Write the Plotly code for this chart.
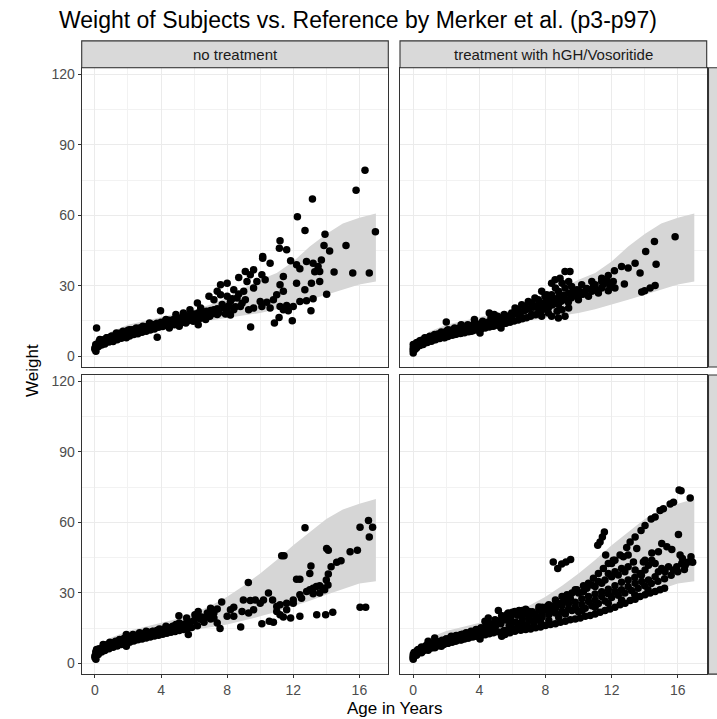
import plotly.graph_objects as go

# ---------------- data ----------------
col_labels = ["no treatment", "treatment with hGH/Vosoritide"]
x_ticks = [0, 4, 8, 12, 16]
y_ticks = [0, 30, 60, 90, 120]

# reference band (p3 - p97), per row
ref_age = [0, 1, 2, 3, 4, 5, 6, 7, 8, 9, 10, 11, 12, 13, 14, 15, 16, 17]
ref_low_row1 = [2.3, 7.0, 9.0, 10.5, 12.0, 13.0, 14.0, 15.0, 16.3, 17.3, 18.4, 20.0, 21.9, 24.0, 26.2, 28.5, 30.5, 31.8]
ref_high_row1 = [4.2, 10.5, 13.4, 15.0, 16.5, 18.0, 19.8, 22.0, 25.0, 29.0, 32.5, 35.4, 40.3, 46.7, 52.0, 56.5, 59.0, 60.8]
ref_low_row2 = [2.5, 7.2, 9.5, 11.0, 12.3, 13.4, 14.4, 15.4, 16.5, 18.2, 20.0, 22.0, 24.2, 26.7, 29.2, 31.7, 34.0, 35.0]
ref_high_row2 = [4.5, 11.0, 13.8, 15.5, 17.2, 19.0, 21.4, 24.5, 28.4, 33.0, 38.3, 44.0, 50.3, 56.0, 61.5, 65.5, 68.0, 70.0]

# subjects: (age, weight)
pts_row1_none = [
    (16.34, 79.2), (15.8, 70.7), (13.16, 66.9), (12.25, 59.4), (16.97, 53.0), (12.71, 53.5), (13.92, 51.9),
    (11.2, 49.2), (11.16, 46.0), (11.6, 45.3), (13.86, 47.1), (14.2, 44.8), (15.19, 47.1), (14.47, 35.8),
    (15.6, 35.4), (16.6, 35.4), (14.02, 26.4), (13.07, 19.4), (11.94, 15.1), (10.86, 14.1), (11.14, 16.5),
    (9.42, 12.4), (10.15, 42.4), (10.6, 39.6), (3.97, 19.4), (0.1, 12.0),
    (11.84, 40.6), (12.2, 38.9), (12.4, 37.2), (12.8, 40.3), (13.2, 39.6), (13.5, 38.2), (13.7, 41.0),
    (13.6, 36.1), (13.3, 36.0), (13.6, 31.8), (13.1, 31.1), (12.7, 28.3), (12.2, 31.1), (11.4, 33.9),
    (11.2, 30.4), (11.4, 27.6), (11.0, 26.2), (10.8, 24.0), (10.4, 23.0), (10.0, 23.3), (9.6, 20.5),
    (9.3, 19.8), (10.1, 21.2), (10.6, 20.5), (11.2, 21.2), (11.6, 21.6), (12.0, 21.2), (12.4, 23.3),
    (12.8, 23.6), (13.2, 24.5), (11.4, 19.8), (11.7, 19.4),
    (10.15, 41.7), (9.6, 36.8), (9.1, 36.1), (9.4, 34.7), (9.8, 31.8), (10.1, 34.7), (10.3, 32.5),
    (9.6, 29.0), (9.2, 31.8), (8.7, 33.5), (9.0, 27.6), (8.4, 28.3), (8.0, 31.1), (7.6, 30.4), (7.4, 27.6),
    (6.9, 25.5), (7.2, 24.0), (7.6, 26.2), (8.0, 25.5), (8.2, 23.3), (8.6, 24.8), (7.8, 20.5), (7.2, 19.8),
    (7.4, 17.7), (6.8, 17.7), (8.4, 19.8), (8.8, 21.2), (8.0, 19.1), (6.4, 20.5), (6.2, 22.6), (5.75, 19.8),
    (5.35, 18.4), (4.9, 17.7), (5.1, 15.6), (5.5, 16.5), (6.0, 17.0), (4.7, 14.9), (4.3, 15.6), (4.1, 14.1),
    (3.7, 13.4), (3.77, 8.1),
    (3.3, 14.1), (2.9, 12.7), (2.5, 12.0), (2.1, 11.3), (1.7, 10.6), (1.3, 9.9), (1.0, 8.5), (0.7, 7.8),
    (0.4, 6.4), (0.2, 5.0), (0.0, 3.5), (0.06, 2.1), (0.1, 4.2), (0.3, 7.1), (0.6, 5.7), (1.1, 7.1),
    (1.5, 8.5), (1.9, 7.8), (2.3, 9.9), (2.7, 10.6), (3.1, 12.0), (3.5, 12.0), (3.9, 12.7), (4.4, 13.4),
    (4.8, 13.4), (4.5, 12.0), (5.1, 12.7), (5.5, 14.1), (5.95, 14.9), (6.4, 16.3), (6.7, 15.6), (6.95, 17.0),
    (6.25, 13.4),
    (0.0, 3.0), (0.05, 5.0), (0.2, 4.0), (0.25, 6.2), (0.4, 4.8), (0.5, 7.0), (0.6, 5.2), (0.75, 7.8),
    (0.85, 6.0), (1.0, 8.5), (1.1, 6.2), (1.25, 9.0), (1.35, 7.0), (1.5, 9.8), (1.6, 7.6), (1.75, 10.4),
    (1.85, 8.2), (2.0, 11.0), (2.1, 8.6), (2.25, 11.3), (2.35, 9.2), (2.5, 11.7), (2.6, 9.6), (2.75, 12.1),
    (2.85, 10.2), (3.0, 12.5), (3.1, 10.6), (3.25, 13.0), (3.35, 11.2), (3.5, 13.5), (3.6, 11.6), (3.75, 14.0),
    (3.85, 12.3), (4.0, 14.5), (4.1, 12.6), (4.25, 14.9), (4.35, 13.1), (4.5, 15.3), (4.6, 13.4), (4.75, 15.6),
    (4.85, 13.8), (5.0, 16.0), (5.1, 14.1), (5.25, 16.5), (5.35, 14.5), (5.5, 17.0), (5.6, 15.0), (5.75, 17.5),
    (5.85, 15.4), (6.0, 18.0), (6.1, 15.8), (6.25, 18.4), (6.35, 16.2), (6.5, 18.7), (6.6, 16.6), (6.75, 19.1),
    (6.85, 17.0), (7.0, 19.5), (7.2, 18.2), (7.4, 20.2), (7.5, 18.5), (7.7, 22.0), (7.9, 18.0), (8.1, 21.5),
    (8.3, 24.5), (8.5, 21.0), (8.7, 26.5), (8.9, 22.5), (9.1, 24.0), (8.2, 17.5),
]

pts_row1_treat = [
    (15.84, 50.9), (14.59, 48.8), (14.06, 44.6), (14.69, 39.2), (13.72, 35.4), (13.42, 39.6), (13.0, 37.5),
    (12.6, 38.2), (12.17, 36.4), (12.77, 30.7), (13.82, 27.3), (14.0, 27.9), (14.33, 29.0), (14.63, 30.1),
    (9.18, 36.1), (9.48, 36.1), (8.58, 32.5), (8.88, 33.2), (8.37, 31.1), (7.77, 17.0), (8.37, 17.0),
    (8.78, 16.3), (9.18, 17.0), (5.31, 12.0), (4.04, 9.9), (2.0, 14.6),
    (0.0, 1.4), (0.0, 3.5), (0.0, 5.0), (0.1, 2.8), (0.2, 5.7), (0.4, 6.6), (0.7, 7.8), (1.0, 8.5),
    (1.3, 9.2), (1.7, 10.3), (2.1, 11.3), (2.5, 12.0), (2.9, 12.7), (3.3, 13.4), (3.7, 14.1), (4.2, 14.9),
    (4.7, 16.3), (5.1, 17.0), (5.5, 17.7), (5.95, 18.4), (6.35, 19.8), (6.76, 21.2), (7.16, 22.6),
    (7.57, 24.0), (7.97, 25.5), (8.37, 26.2), (8.78, 27.6), (9.18, 29.0), (9.58, 29.7), (10.19, 30.4),
    (10.8, 31.8), (11.4, 33.2), (11.8, 34.4), (12.1, 31.8),
    (0.5, 5.0), (0.9, 6.4), (1.3, 7.1), (1.9, 7.8), (2.5, 9.2), (2.9, 9.9), (3.5, 10.6), (4.1, 12.0),
    (4.7, 12.7), (5.35, 14.1), (5.95, 15.6), (6.56, 16.5), (7.16, 17.7), (7.77, 19.8), (8.17, 20.5),
    (8.78, 22.0), (9.38, 23.0), (9.99, 24.0), (10.6, 25.5), (11.2, 26.9), (11.8, 27.9), (12.2, 29.0),
    (7.36, 21.2), (7.87, 22.6), (8.37, 23.3), (8.98, 24.5), (9.58, 25.5), (10.2, 26.4), (10.8, 27.6),
    (11.4, 29.0), (11.9, 29.7), (11.0, 30.4), (10.4, 27.6), (9.8, 26.2), (8.0, 20.5), (7.57, 18.4),
    (8.17, 18.4), (8.7, 19.1), (9.0, 19.8), (9.4, 20.5), (5.55, 14.1), (4.9, 13.4),
    (7.77, 27.6), (8.6, 29.0), (9.0, 31.1), (8.07, 26.2), (9.4, 31.8), (9.9, 28.3), (7.36, 24.8),
    (6.96, 23.3), (6.56, 21.9), (6.16, 20.5), (4.9, 17.7), (4.6, 18.4), (3.7, 15.6), (2.9, 13.4), (11.4, 31.8),
    (0.0, 2.5), (0.05, 4.5), (0.2, 3.5), (0.25, 5.8), (0.4, 4.5), (0.5, 6.8), (0.6, 5.0), (0.75, 7.6),
    (0.85, 5.8), (1.0, 8.2), (1.1, 6.4), (1.25, 8.8), (1.35, 7.0), (1.5, 9.5), (1.6, 7.5), (1.75, 10.0),
    (1.85, 8.0), (2.0, 10.6), (2.1, 8.4), (2.25, 11.0), (2.35, 8.9), (2.5, 11.4), (2.6, 9.3), (2.75, 11.8),
    (2.85, 9.7), (3.0, 12.2), (3.1, 10.0), (3.25, 12.6), (3.35, 10.4), (3.5, 13.0), (3.6, 10.8), (3.75, 13.3),
    (3.85, 11.2), (4.0, 13.7), (4.1, 11.6), (4.25, 14.1), (4.35, 12.0), (4.5, 14.5), (4.6, 12.4), (4.75, 15.0),
    (4.85, 12.8), (5.0, 15.5), (5.1, 13.2), (5.25, 16.0), (5.35, 13.6), (5.5, 16.5), (5.6, 14.0), (5.75, 17.0),
    (5.85, 14.5), (6.0, 17.6), (6.1, 15.0), (6.25, 18.2), (6.35, 15.4), (6.5, 18.8), (6.6, 15.9), (6.75, 19.5),
    (6.85, 16.4), (7.0, 20.2), (7.1, 17.0), (7.25, 20.8), (7.4, 17.6), (7.5, 21.6), (7.6, 19.0), (7.7, 22.3),
    (7.85, 20.0), (8.0, 23.0), (8.1, 21.0), (8.25, 23.8), (8.4, 21.8), (8.5, 24.5), (8.65, 22.6), (8.8, 25.2),
    (8.95, 23.4), (9.1, 26.0), (9.25, 24.0), (9.4, 26.8), (9.55, 24.8), (9.7, 27.5), (9.85, 25.6), (10.0, 28.0),
    (10.3, 26.5), (10.5, 28.8), (10.9, 29.5), (11.1, 28.0), (11.5, 30.5), (11.7, 32.0),
]

pts_row2_none = [
    (16.55, 60.8), (16.04, 58.0), (16.8, 58.0), (16.6, 53.8), (15.88, 48.2), (15.44, 47.5), (14.89, 43.7),
    (14.63, 43.0), (14.29, 41.1), (14.12, 48.2), (14.02, 48.9), (12.71, 57.7), (11.3, 45.8), (11.44, 45.8),
    (13.07, 41.4), (13.0, 38.3), (14.12, 38.0), (12.2, 35.8), (12.4, 35.8), (9.28, 34.4), (8.98, 27.0),
    (7.67, 26.1), (16.04, 23.9), (16.38, 23.9), (14.39, 21.7), (13.96, 20.7), (13.42, 20.7), (12.4, 20.0),
    (11.84, 19.3), (11.4, 19.7), (11.2, 20.7), (10.55, 17.9), (10.1, 16.9), (10.8, 17.5), (8.82, 15.5),
    (7.57, 14.8), (5.08, 20.3),
    (12.81, 30.6), (13.2, 32.0), (13.4, 32.7), (13.6, 33.0), (13.8, 32.0), (14.0, 35.5), (13.9, 31.3),
    (14.1, 33.4), (13.6, 29.9), (13.2, 29.6), (13.0, 31.3), (12.5, 27.7), (12.4, 29.2), (12.0, 27.0),
    (11.6, 25.6), (11.2, 24.9), (11.0, 24.2), (10.75, 27.0), (10.5, 29.9), (10.2, 27.0), (9.7, 27.0),
    (9.4, 26.8), (10.0, 25.6), (9.6, 22.8), (9.3, 21.4), (8.9, 22.1), (8.4, 23.9), (8.2, 22.8), (8.0, 20.0),
    (8.4, 20.0), (7.4, 23.1), (7.0, 23.5), (6.8, 21.4), (6.25, 22.1), (6.05, 20.7), (6.45, 19.7), (7.0, 18.9),
    (7.4, 17.2), (7.2, 19.3), (5.55, 19.3), (5.65, 15.1), (5.1, 17.2), (4.7, 15.8), (4.4, 15.1), (4.0, 14.1),
    (3.7, 13.0), (3.3, 12.3), (2.9, 11.5), (2.5, 10.1), (2.1, 9.4), (1.9, 12.3), (1.7, 8.7), (1.3, 8.0),
    (1.1, 7.3), (0.7, 6.6), (0.4, 5.2), (0.2, 4.5), (0.0, 3.1), (0.06, 1.7), (0.1, 5.9), (0.5, 8.0),
    (0.9, 9.0), (1.5, 10.1), (1.9, 10.8), (2.3, 12.3), (2.7, 13.0), (3.1, 13.7), (3.5, 13.7), (3.9, 14.6),
    (4.3, 15.8), (4.6, 15.1), (4.9, 16.5), (5.35, 15.8), (5.75, 17.2), (5.65, 12.3), (1.9, 7.3),
    (6.15, 19.3), (11.6, 22.8), (12.0, 25.6), (11.0, 22.1),
    (0.0, 2.5), (0.05, 4.8), (0.2, 3.8), (0.25, 6.2), (0.4, 4.8), (0.5, 7.2), (0.6, 5.5), (0.75, 8.0),
    (0.85, 6.2), (1.0, 8.8), (1.1, 6.8), (1.25, 9.4), (1.35, 7.4), (1.5, 10.0), (1.6, 8.0), (1.75, 10.6),
    (1.85, 8.5), (2.0, 11.2), (2.1, 9.0), (2.25, 11.6), (2.35, 9.5), (2.5, 12.0), (2.6, 10.0), (2.75, 12.4),
    (2.85, 10.4), (3.0, 12.8), (3.1, 10.8), (3.25, 13.2), (3.35, 11.2), (3.5, 13.6), (3.6, 11.6), (3.75, 14.0),
    (3.85, 12.0), (4.0, 14.4), (4.1, 12.4), (4.25, 14.8), (4.35, 12.8), (4.5, 15.2), (4.6, 13.2), (4.75, 15.6),
    (4.85, 13.6), (5.0, 16.0), (5.1, 14.0), (5.25, 16.5), (5.35, 14.4), (5.5, 17.0), (5.6, 14.8), (5.75, 17.6),
    (5.85, 15.3), (6.0, 18.2), (6.2, 16.0), (6.4, 18.8), (6.6, 17.5), (6.8, 19.8), (7.0, 20.5), (7.2, 21.5),
]

pts_row2_treat = [
    (16.08, 73.8), (16.2, 73.5), (16.75, 70.4), (15.74, 68.6), (15.54, 67.9), (15.13, 65.8), (14.93, 65.1),
    (14.63, 62.3), (14.39, 61.5), (14.02, 58.7), (13.78, 56.6), (13.42, 53.8), (13.12, 51.7), (12.91, 49.3),
    (12.51, 46.1), (12.1, 43.9), (11.8, 42.5), (11.5, 40.4), (11.2, 38.3), (10.9, 36.2), (10.6, 34.1),
    (10.3, 33.0), (9.9, 31.3), (9.6, 29.9), (9.3, 29.2), (9.0, 28.5), (8.6, 27.0), (8.2, 24.9), (7.8, 23.9),
    (7.6, 22.8),
    (11.56, 55.9), (11.44, 53.8), (11.3, 51.7), (11.16, 50.3), (11.64, 46.1), (8.47, 43.2), (8.74, 40.4),
    (8.98, 42.3), (9.24, 43.2), (9.52, 44.2),
    (16.04, 54.9), (15.03, 51.0), (15.34, 49.6), (15.64, 48.5), (14.83, 47.5), (14.43, 47.0), (14.02, 43.9),
    (13.52, 48.9), (13.0, 46.1), (12.71, 45.4), (12.2, 43.9), (12.0, 42.5),
    (16.14, 46.1), (16.28, 44.6), (16.8, 45.4), (16.9, 43.0), (16.65, 43.2), (16.45, 41.8), (16.24, 42.5),
    (15.94, 41.1), (15.74, 39.7), (15.44, 41.1), (15.23, 39.0), (15.03, 40.4), (14.83, 39.0), (14.63, 42.5),
    (14.43, 43.9), (14.23, 41.8), (14.02, 39.7), (13.92, 43.2), (13.72, 38.3), (13.42, 39.7), (13.32, 43.2),
    (13.0, 41.1), (12.8, 39.0), (12.6, 40.4), (12.4, 37.6), (12.2, 39.0), (12.0, 36.9), (11.8, 38.3),
    (11.6, 35.5), (11.4, 34.1), (11.2, 34.8), (11.0, 32.7), (10.8, 33.4), (10.5, 32.0), (10.3, 30.6),
    (10.0, 29.9), (9.8, 31.3), (9.5, 27.7), (9.2, 27.0), (8.9, 25.6), (8.6, 24.9), (8.4, 23.1), (8.1, 24.2),
    (15.2, 32.0), (14.93, 31.3), (14.63, 30.6), (14.33, 29.9), (14.02, 29.2), (13.72, 28.5), (13.42, 27.3),
    (13.12, 26.8), (12.81, 25.6), (12.51, 24.9), (12.2, 23.9), (11.9, 23.1), (11.6, 22.5), (11.3, 21.7),
    (11.0, 21.0), (10.7, 20.4), (10.4, 20.0), (10.1, 19.3), (9.8, 18.9), (9.5, 18.6), (9.2, 17.9),
    (8.9, 17.5), (8.6, 16.9), (8.3, 16.5), (8.0, 16.1), (7.7, 15.5), (7.4, 15.1), (7.1, 14.6), (6.8, 14.4),
    (6.5, 14.1), (6.15, 13.7), (5.85, 13.0), (5.55, 12.3), (5.35, 11.5), (5.45, 13.7),
    (14.63, 36.9), (14.23, 35.5), (13.82, 34.8), (13.42, 34.1), (13.0, 32.7), (12.6, 31.3), (12.2, 30.6),
    (11.8, 29.6), (11.4, 28.5), (11.0, 27.0), (10.6, 26.3), (10.2, 24.9), (9.8, 23.9), (9.4, 23.1),
    (9.0, 22.1), (8.6, 21.4), (8.2, 20.7), (7.8, 19.7), (7.4, 18.9), (7.0, 18.3), (6.6, 17.2), (10.2, 22.5),
    (11.0, 23.9), (11.8, 25.6), (12.6, 27.0), (13.4, 29.2), (14.2, 31.3),
    (7.0, 22.1), (6.6, 22.5), (6.15, 22.1), (5.75, 21.4), (5.35, 20.3), (5.15, 22.5), (5.55, 19.3),
    (5.95, 17.2), (6.35, 15.8), (5.85, 15.1), (4.95, 18.6), (4.54, 19.3), (4.34, 17.9), (4.04, 10.4),
    (0.0, 2.4), (0.0, 3.8), (0.1, 4.5), (0.3, 5.9), (0.5, 7.0), (0.8, 7.6), (1.1, 8.5), (1.4, 8.7),
    (1.7, 9.4), (2.0, 10.4), (2.3, 11.5), (2.6, 11.8), (2.9, 12.3), (3.2, 13.0), (3.5, 13.7), (3.8, 14.4),
    (4.1, 15.1), (4.4, 16.1), (4.7, 16.9), (4.95, 15.8), (4.54, 13.0), (4.04, 12.3), (3.7, 11.5),
    (3.3, 10.8), (2.9, 9.9), (2.5, 9.4), (2.1, 8.5), (1.7, 7.3), (1.3, 6.6), (0.9, 5.6), (0.5, 4.5),
    (0.2, 3.4), (0.0, 1.7), (1.3, 10.8), (0.9, 9.4), (3.5, 11.5),
    (0.0, 2.8), (0.05, 4.6), (0.2, 3.6), (0.25, 5.6), (0.4, 4.6), (0.5, 6.6), (0.6, 5.2), (0.75, 7.4),
    (0.85, 5.9), (1.0, 8.0), (1.1, 6.5), (1.25, 8.6), (1.35, 7.0), (1.5, 9.2), (1.6, 7.6), (1.75, 9.8),
    (1.85, 8.0), (2.0, 10.4), (2.1, 8.5), (2.25, 10.9), (2.35, 9.0), (2.5, 11.4), (2.6, 9.5), (2.75, 11.9),
    (2.85, 10.0), (3.0, 12.4), (3.1, 10.4), (3.25, 12.8), (3.35, 10.8), (3.5, 13.2), (3.6, 11.2), (3.75, 13.6),
    (3.85, 11.5), (4.0, 14.0), (4.1, 11.8), (4.25, 14.5), (4.35, 12.2), (4.5, 15.0), (4.6, 12.6), (4.75, 15.6),
    (4.85, 13.0), (5.0, 16.2), (5.1, 13.4), (5.2, 18.0), (5.3, 16.8), (5.4, 20.0), (5.5, 14.0), (5.6, 18.5),
    (5.7, 21.0), (5.8, 16.0), (5.9, 19.5), (6.0, 21.8), (6.1, 14.6), (6.2, 17.5), (6.3, 20.5), (6.4, 22.5),
    (6.5, 15.2), (6.6, 19.0), (6.7, 21.0), (6.8, 23.0), (6.9, 16.2), (7.0, 20.0), (7.2, 22.0), (7.3, 17.0),
    (7.4, 20.5), (7.6, 24.0), (7.7, 17.8), (7.8, 21.5), (8.0, 22.8), (8.2, 18.2), (8.4, 22.0), (8.6, 23.5),
    (8.8, 19.5), (9.0, 24.5), (9.2, 21.0), (9.4, 25.5), (9.6, 22.5), (9.8, 26.0), (10.0, 22.0), (10.2, 27.5),
    (10.4, 23.5), (10.6, 28.5), (10.8, 24.5), (11.0, 29.5), (11.2, 25.5), (11.4, 30.5), (11.6, 26.5),
    (11.8, 31.5), (12.0, 28.0), (12.2, 33.0), (12.4, 29.0), (12.6, 34.5), (12.8, 30.0), (13.0, 35.5),
    (13.2, 31.0), (13.4, 36.5), (13.6, 32.0), (13.8, 37.5), (14.0, 33.0), (14.4, 34.0), (14.8, 35.0),
    (15.2, 36.0), (15.6, 37.5), (16.0, 39.0), (16.4, 40.0),
]

# ---------------- layout geometry ----------------
W, H = 717, 719
def fx(p):
    return p / W
def fy(p):
    return 1 - p / H

col_dom = [[fx(81.7), fx(388.3)], [fx(400.0), fx(706.7)]]
row_dom = [[fy(366), fy(66)], [fy(674), fy(374)]]  # row1 (top), row2 (bottom)
x_range = [-0.8, 17.75]
y_range = [-4.6, 122.8]

FONT = "Liberation Sans, Arial, sans-serif"
RIBBON = "rgb(214,214,214)"

panels = [
    # (row, col, pts, low, high)
    (0, 0, pts_row1_none, ref_low_row1, ref_high_row1),
    (0, 1, pts_row1_treat, ref_low_row1, ref_high_row1),
    (1, 0, pts_row2_none, ref_low_row2, ref_high_row2),
    (1, 1, pts_row2_treat, ref_low_row2, ref_high_row2),
]

fig = go.Figure()
layout = dict(
    width=W, height=H, margin=dict(l=0, r=0, t=0, b=0),
    paper_bgcolor="white", plot_bgcolor="white", showlegend=False,
    font=dict(family=FONT, color="#1a1a1a"),
)
shapes = []
annotations = []

for i, (r, c, pts, lo, hi) in enumerate(panels, start=1):
    sfx = "" if i == 1 else str(i)
    xa, ya = "x" + sfx, "y" + sfx
    fig.add_trace(go.Scatter(
        x=ref_age + ref_age[::-1], y=hi + lo[::-1], fill="toself", fillcolor=RIBBON,
        line=dict(width=0), mode="lines", hoverinfo="skip", xaxis=xa, yaxis=ya))
    ages = [p[0] for p in pts]
    wts = [p[1] for p in pts]
    fig.add_trace(go.Scatter(
        x=ages, y=wts, mode="markers", marker=dict(size=7.5, color="black", line=dict(width=0)),
        xaxis=xa, yaxis=ya))
    bottom = (r == 1)
    left = (c == 0)
    layout["xaxis" + sfx] = dict(
        domain=col_dom[c], range=x_range, anchor=ya,
        tickmode="array", tickvals=x_ticks, ticktext=[str(v) for v in x_ticks],
        showticklabels=bottom, ticks="outside" if bottom else "", ticklen=3, tickcolor="#333333",
        tickfont=dict(size=14, color="#4d4d4d", family=FONT),
        showgrid=True, gridcolor="#ebebeb", gridwidth=1.1,
        minor=dict(tickvals=[2, 6, 10, 14], showgrid=True, gridcolor="#f2f2f2", gridwidth=0.6, ticks=""),
        zeroline=False, showline=True, mirror=True, linecolor="#333333", linewidth=1.1,
    )
    layout["yaxis" + sfx] = dict(
        domain=row_dom[r], range=y_range, anchor=xa,
        tickmode="array", tickvals=y_ticks, ticktext=[str(v) for v in y_ticks],
        showticklabels=left, ticks="outside" if left else "", ticklen=3, tickcolor="#333333",
        tickfont=dict(size=14, color="#4d4d4d", family=FONT),
        showgrid=True, gridcolor="#ebebeb", gridwidth=1.1,
        minor=dict(tickvals=[15, 45, 75, 105], showgrid=True, gridcolor="#f2f2f2", gridwidth=0.6, ticks=""),
        zeroline=False, showline=True, mirror=True, linecolor="#333333", linewidth=1.1,
    )

# column strips (top)
for c, lab in enumerate(col_labels):
    shapes.append(dict(type="rect", xref="paper", yref="paper",
                       x0=col_dom[c][0], x1=col_dom[c][1], y0=fy(66), y1=fy(39),
                       fillcolor="#d9d9d9", line=dict(color="#333333", width=1.1), layer="above"))
    annotations.append(dict(text=lab, xref="paper", yref="paper",
                            x=(col_dom[c][0] + col_dom[c][1]) / 2, y=fy(52.5),
                            xanchor="center", yanchor="middle", showarrow=False,
                            font=dict(size=15, color="#1a1a1a", family=FONT)))
# row strips (right, cut off by the page edge)
for r in range(2):
    shapes.append(dict(type="rect", xref="paper", yref="paper",
                       x0=fx(708.5), x1=fx(740), y0=row_dom[r][0], y1=row_dom[r][1],
                       fillcolor="#d9d9d9", line=dict(color="#333333", width=1.1), layer="above"))

annotations.append(dict(text="Weight of Subjects vs. Reference by Merker et al. (p3-p97)",
                        xref="paper", yref="paper", x=fx(57), y=fy(18), xanchor="left", yanchor="middle",
                        showarrow=False, font=dict(size=23, color="#000000", family=FONT)))
annotations.append(dict(text="Age in Years", xref="paper", yref="paper", x=fx(394), y=fy(708),
                        xanchor="center", yanchor="middle", showarrow=False,
                        font=dict(size=17, color="#000000", family=FONT)))
annotations.append(dict(text="Weight", xref="paper", yref="paper", x=fx(33), y=fy(370),
                        xanchor="center", yanchor="middle", showarrow=False, textangle=-90,
                        font=dict(size=17, color="#000000", family=FONT)))

layout["shapes"] = shapes
layout["annotations"] = annotations
fig.update_layout(**layout)
fig.write_html("out.html")
